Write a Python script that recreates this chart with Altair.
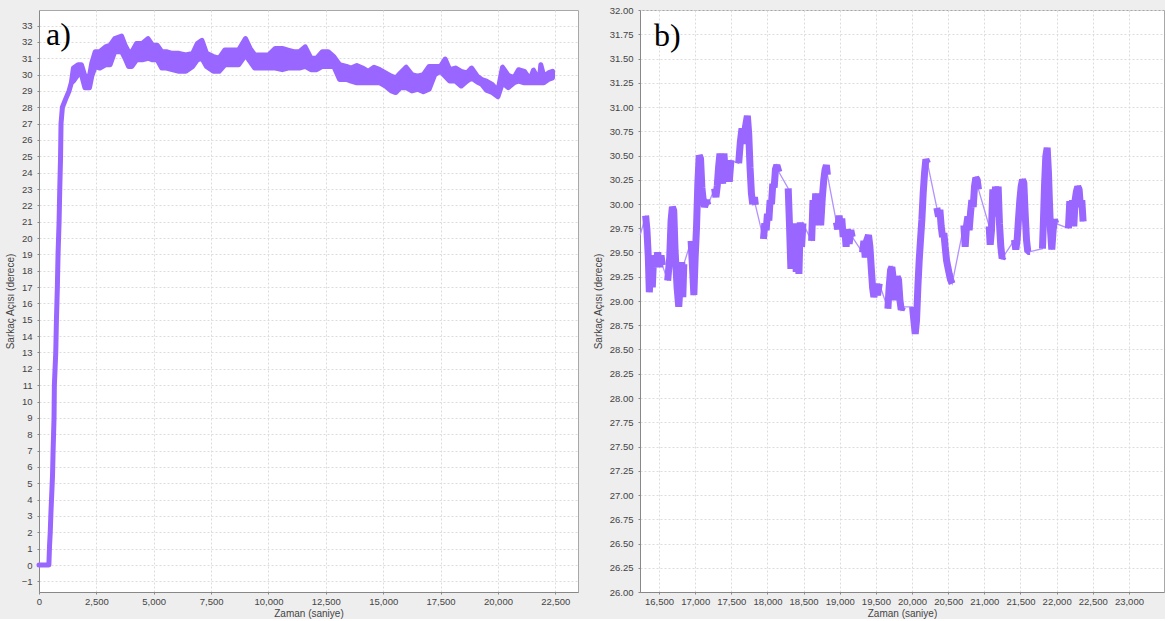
import altair as alt
import pandas as pd

PURPLE = "#9966ff"
THIN = "#b391ff"

# ---------------- panel a) : whole run (time in s, angle in degrees; lo/hi = band of oscillation)
a_t = [0, 430, 460, 490, 520, 560, 590, 615, 655, 670, 730, 760, 800, 830, 875, 905, 940, 960,
       1020, 1160, 1310, 1410, 1500, 1700, 1850, 2000, 2200, 2300, 2450, 2650, 2900, 3100, 3300,
       3600, 3750, 3900, 4050, 4250, 4500, 4750, 4950, 5150, 5350, 5550, 5800, 6100, 6400, 6700,
       6900, 7100, 7300, 7600, 7850, 8100, 8400, 8700, 9000, 9200, 9400, 9700, 10000, 10300,
       10600, 10850, 11100, 11350, 11600, 11850, 12100, 12350, 12600, 12850, 13100, 13400, 13600,
       13850, 14100, 14350, 14600, 14850, 15100, 15350, 15550, 15750, 16000, 16250, 16500, 16750,
       17000, 17250, 17500, 17700, 17900, 18150, 18400, 18650, 18850, 19100, 19300, 19500, 19750,
       20000, 20200, 20450, 20700, 20900, 21150, 21400, 21550, 21800, 21870, 22000, 22200, 22380]
a_lo = [0, 0, 1.2, 2, 3.2, 4.5, 5.5, 7, 9, 11, 13, 15, 17, 19, 21, 23, 25, 27,
        28, 28.5, 29, 29.5, 29.6, 30.0, 30.0, 29.2, 29.2, 29.9, 30.5, 30.4, 30.6, 30.6, 31.4,
        31.4, 31.0, 30.5, 30.5, 30.9, 30.9, 31.0, 30.9, 30.9, 30.4, 30.4, 30.3, 30.2, 30.2, 30.5,
        30.9, 31.0, 30.5, 30.2, 30.2, 30.6, 30.6, 30.6, 31.2, 30.8, 30.4, 30.4, 30.4, 30.4,
        30.3, 30.4, 30.4, 30.4, 30.5, 30.3, 30.3, 30.5, 30.5, 30.5, 29.7, 29.7, 29.6,
        29.5, 29.5, 29.5, 29.5, 29.5, 29.3, 29.0, 28.9, 29.2, 29.2, 29.0, 29.1, 28.95,
        29.1, 30.0, 30.2, 29.9, 29.6, 29.6, 29.3, 29.6, 29.8, 29.55, 29.4, 29.05, 28.9,
        28.65, 29.5, 29.2, 29.5, 29.6, 29.5, 29.5, 29.5, 29.5, 29.5, 29.5, 29.7, 29.8]
a_hi = [0, 0, 1.2, 2, 3.2, 4.5, 5.5, 7, 9, 11, 13, 15, 17, 19, 21, 23, 25, 27,
        28, 28.5, 29, 29.5, 30.4, 30.6, 30.6, 29.9, 29.9, 30.7, 31.4, 31.4, 31.7, 31.8, 32.2,
        32.35, 31.8, 31.4, 31.4, 31.9, 31.9, 32.2, 31.8, 31.8, 31.4, 31.4, 31.3, 31.3, 31.2, 31.3,
        31.9, 32.1, 31.3, 31.1, 31.0, 31.5, 31.5, 31.5, 32.2, 31.6, 31.2, 31.2, 31.2, 31.6,
        31.6, 31.5, 31.4, 31.4, 31.7, 31.0, 31.0, 31.4, 31.4, 31.1, 30.6, 30.5, 30.4,
        30.55, 30.4, 30.2, 30.45, 30.3, 30.1, 29.9, 29.8, 30.1, 30.45, 30.0, 29.9, 30.0,
        30.5, 30.5, 30.5, 30.95, 30.3, 30.4, 30.2, 30.1, 30.4, 29.9, 29.7, 29.6, 29.4,
        29.0, 30.45, 29.95, 29.8, 30.3, 30.2, 29.7, 30.27, 29.6, 30.6, 29.9, 30.1, 30.2]

# ---------------- panel b) : zoom on the last part (dense bursts = chunks, joined by thin lines)
b_t = [16240,
       16315, 16333, 16352, 16366, 16389, 16407, 16426, 16454, 16481, 16509, 16528, 16546,
       16620, 16648, 16667, 16685, 16704, 16722, 16750, 16773, 16796, 16815, 16829, 16843,
       16944, 16963, 16982, 17000, 17019, 17037, 17056, 17074, 17093, 17111, 17130, 17157, 17176,
       17269, 17287, 17306, 17324, 17343, 17361, 17380, 17398, 17417, 17445, 17472, 17495,
       17602, 17625, 17648, 17676, 17695, 17722, 17741, 17759, 17778, 17796, 17820, 17833,
       17945, 17963, 17982, 18000, 18019, 18037, 18056, 18074, 18093, 18111, 18130, 18158,
       18287, 18306, 18324, 18343, 18361, 18380, 18398, 18417, 18435, 18454, 18472, 18491,
       18611, 18630, 18648, 18667, 18690, 18713, 18736, 18759, 18778, 18796, 18815, 18829,
       18954, 18972, 18991, 19009, 19028, 19047, 19070, 19088, 19107, 19130, 19153, 19172,
       19315, 19334, 19352, 19371, 19398, 19417, 19435, 19454, 19472, 19500, 19523, 19546,
       19666, 19684, 19703, 19721, 19740, 19758, 19776, 19795, 19813, 19832, 19850, 19869,
       20007, 20025, 20044, 20062, 20081, 20099, 20117, 20136, 20154, 20173, 20191, 20214,
       20343, 20366, 20385, 20403, 20422, 20440, 20458, 20477, 20495, 20514, 20532, 20555,
       20717, 20735, 20753, 20772, 20790, 20809, 20827, 20846, 20864, 20882, 20901, 20919,
       21067, 21081, 21099, 21117, 21136, 21154, 21173, 21191, 21209, 21228, 21246, 21265,
       21417, 21435, 21454, 21472, 21491, 21509, 21528, 21546, 21564, 21583, 21601, 21633,
       21804, 21818, 21832, 21850, 21869, 21887, 21901, 21915, 21933, 21951, 21970, 21988,
       22163, 22182, 22200, 22219, 22237, 22256, 22274, 22292, 22311, 22329, 22348, 22366]
b_v = [29.68,
       29.88, 29.73, 29.45, 29.09, 29.45, 29.14, 29.47, 29.35, 29.50, 29.35, 29.47, 29.37,
       29.21, 29.45, 29.83, 29.97, 29.93, 29.52, 29.14, 28.94, 29.21, 29.40, 29.04, 29.38,
       29.62, 29.35, 29.06, 29.45, 29.76, 30.21, 30.50, 30.47, 30.17, 30.04, 29.97, 30.04, 29.99,
       30.16, 30.07, 30.19, 30.38, 30.52, 30.38, 30.21, 30.52, 30.31, 30.45, 30.23, 30.45,
       30.42, 30.64, 30.78, 30.62, 30.79, 30.91, 30.72, 30.38, 30.11, 30.00, 30.07, 29.99,
       29.64, 29.80, 29.73, 29.90, 29.83, 30.04, 30.00, 30.21, 30.17, 30.36, 30.40, 30.33,
       30.16, 29.76, 29.33, 29.80, 29.35, 29.76, 29.30, 29.80, 29.28, 29.81, 29.56, 29.80,
       29.62, 30.04, 29.80, 30.11, 29.78, 30.11, 29.78, 30.07, 30.24, 30.35, 30.40, 30.30,
       29.81, 29.74, 29.88, 29.76, 29.85, 29.66, 29.74, 29.56, 29.74, 29.59, 29.73, 29.66,
       29.50, 29.62, 29.45, 29.62, 29.68, 29.56, 29.35, 29.14, 29.04, 29.14, 29.06, 29.18,
       28.92, 29.15, 29.32, 29.35, 29.22, 29.01, 29.11, 29.25, 29.22, 29.01, 28.91, 28.94,
       28.94, 28.80, 28.66, 28.80, 29.15, 29.42, 29.63, 29.84, 30.11, 30.32, 30.46, 30.42,
       29.96, 29.87, 29.94, 29.77, 29.66, 29.70, 29.56, 29.42, 29.35, 29.28, 29.22, 29.18,
       29.78, 29.56, 29.77, 29.87, 29.73, 29.91, 30.04, 29.97, 30.18, 30.27, 30.25, 30.15,
       29.77, 29.58, 29.73, 30.15, 29.87, 30.18, 29.97, 30.18, 29.80, 29.56, 29.44, 29.46,
       29.63, 29.53, 29.63, 29.84, 30.04, 30.18, 30.25, 30.22, 29.91, 29.63, 29.51, 29.51,
       29.54, 29.84, 30.18, 30.49, 30.58, 30.32, 30.01, 29.73, 29.53, 29.73, 29.84, 29.80,
       29.75, 30.03, 29.77, 30.04, 29.77, 30.04, 30.13, 30.18, 30.15, 29.97, 30.04, 29.82]
b_chunk = [0] + [c for c in range(1, 19) for _ in range(12)]
b_chunk[25:38] = [3] * 13
b_chunk[38:] = [c for c in range(4, 19) for _ in range(12)]

a_xticks = [0, 2500, 5000, 7500, 10000, 12500, 15000, 17500, 20000, 22500]
a_yticks = list(range(-1, 34))
b_xticks = [16500, 17000, 17500, 18000, 18500, 19000, 19500, 20000, 20500, 21000, 21500,
            22000, 22500, 23000]
b_yticks = [26 + 0.25 * i for i in range(25)]

FONT = "Liberation Sans"
YTITLE = "Sarkaç Açısı (derece)"
XTITLE = "Zaman (saniye)"


def axis(values, fmt, title, orient):
    common = dict(values=values, format=fmt, title=title, grid=True, gridDash=[2, 2],
                  gridColor="#dcdcdc", gridWidth=1, tickSize=2, tickColor="#888",
                  domainColor="#888", labelFont=FONT, labelFontSize=9.5, labelColor="#444",
                  titleFont=FONT, titleFontSize=10, titleFontWeight="normal",
                  titleColor="#444", labelOverlap=False, labelFlush=False)
    if orient == "x":
        return alt.Axis(labelPadding=2, titlePadding=3, **common)
    return alt.Axis(labelPadding=5, titlePadding=6, **common)


W_A, W_B, H = 539, 524, 582

dfa = pd.DataFrame({"t": a_t, "lo": a_lo, "hi": a_hi})
xa = alt.X("t:Q", scale=alt.Scale(domain=[0, 23490], nice=False, zero=False),
           axis=axis(a_xticks, ",d", XTITLE, "x"))
ya = alt.Y("lo:Q", scale=alt.Scale(domain=[-1.65, 33.95], nice=False, zero=False),
           axis=axis(a_yticks, "d", YTITLE, "y"))
area_a = alt.Chart(dfa).mark_area(color=PURPLE, stroke=PURPLE, strokeWidth=5,
                                  strokeJoin="round", fillOpacity=1).encode(
    x=xa, y=ya, y2="hi:Q")
lab_a = alt.Chart(pd.DataFrame({"s": ["a)"]})).mark_text(
    font="Liberation Serif", fontSize=32, align="left", baseline="alphabetic",
    color="black").encode(text="s:N", x=alt.value(7), y=alt.value(35))
panel_a = alt.layer(area_a, lab_a).properties(width=W_A, height=H)

dfb = pd.DataFrame({"t": b_t, "v": b_v, "chunk": b_chunk})
xb = alt.X("t:Q", scale=alt.Scale(domain=[16237, 23485], nice=False, zero=False),
           axis=axis(b_xticks, ",d", XTITLE, "x"))
yb = alt.Y("v:Q", scale=alt.Scale(domain=[26, 32], nice=False, zero=False),
           axis=axis(b_yticks, ".2f", YTITLE, "y"))
thin_b = alt.Chart(dfb).mark_line(color=THIN, strokeWidth=1.3).encode(
    x=xb, y=yb, order="t:Q")
thick_b = alt.Chart(dfb).transform_filter("datum.chunk > 0").mark_line(
    color=PURPLE, strokeWidth=7, strokeJoin="bevel").encode(
    x=xb, y=yb, detail="chunk:N", order="t:Q")
lab_b = alt.Chart(pd.DataFrame({"s": ["b)"]})).mark_text(
    font="Liberation Serif", fontSize=32, align="left", baseline="alphabetic",
    color="black").encode(text="s:N", x=alt.value(14), y=alt.value(36))
panel_b = alt.layer(thin_b, thick_b, lab_b).properties(width=W_B, height=H)

chart = alt.hconcat(panel_a, panel_b, spacing=13).properties(
    background="#eeeeee",
    padding={"left": 4, "top": 4, "right": 0, "bottom": 0},
).configure_view(stroke="#a8a8a8", fill="white")

chart.save("out.html", embed_options={"renderer": "svg", "actions": False})
